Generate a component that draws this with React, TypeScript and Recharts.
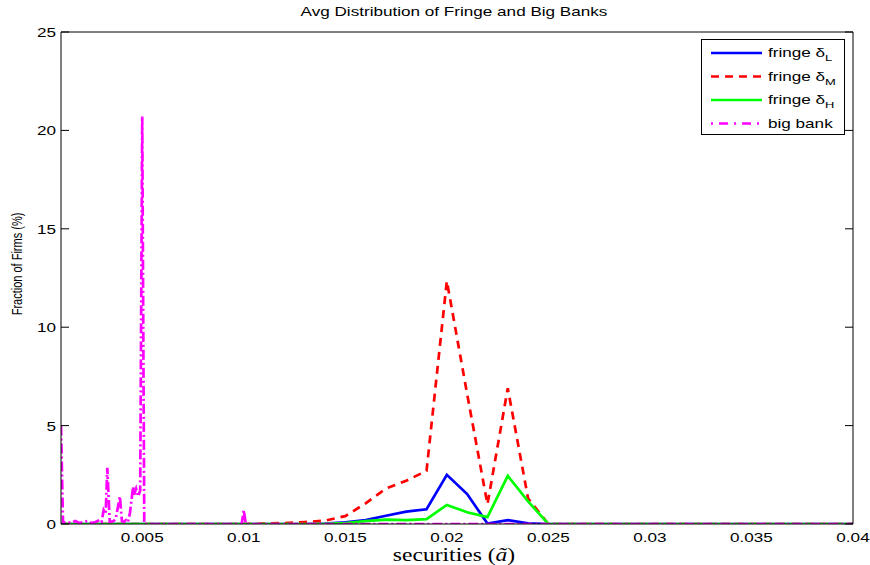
import React from 'react';
import { LineChart, Line, XAxis, YAxis } from 'recharts';

// fringe grid, one value per 0.001 of securities
const secX = [
  0.001, 0.002, 0.003, 0.004, 0.005, 0.006, 0.007, 0.008, 0.009, 0.01,
  0.011, 0.012, 0.013, 0.014, 0.015, 0.016, 0.017, 0.018, 0.019, 0.02,
  0.021, 0.022, 0.023, 0.024, 0.025, 0.026, 0.027, 0.028, 0.029, 0.03,
  0.031, 0.032, 0.033, 0.034, 0.035, 0.036, 0.037, 0.038, 0.039, 0.04,
];
const fringeL = [
  0, 0, 0, 0, 0, 0, 0, 0, 0, 0,
  0, 0, 0, 0.02, 0.08, 0.2, 0.42, 0.63, 0.75, 2.5,
  1.52, 0.02, 0.2, 0.03, 0, 0, 0, 0, 0, 0,
  0, 0, 0, 0, 0, 0, 0, 0, 0, 0,
];
const fringeM = [
  0, 0, 0, 0, 0, 0, 0, 0, 0, 0,
  0.02, 0.05, 0.1, 0.17, 0.4, 1.05, 1.8, 2.2, 2.7, 12.35,
  6.6, 1.0, 6.9, 1.3, 0, 0, 0, 0, 0, 0,
  0, 0, 0, 0, 0, 0, 0, 0, 0, 0,
];
const fringeH = [
  0, 0, 0, 0, 0, 0, 0, 0, 0, 0,
  0, 0, 0, 0.01, 0.05, 0.15, 0.22, 0.2, 0.25, 0.97,
  0.6, 0.35, 2.45, 1.15, 0, 0, 0, 0, 0, 0,
  0, 0, 0, 0, 0, 0, 0, 0, 0, 0,
];

// big bank is on a finer grid
const bigBankX = [
  0.001, 0.0011, 0.0013, 0.0015, 0.0017, 0.0019, 0.0021, 0.0023, 0.0025, 0.0027,
  0.0029, 0.003, 0.0031, 0.0032, 0.00328, 0.0034, 0.0036, 0.0037, 0.0039, 0.004,
  0.0041, 0.0042, 0.0043, 0.0044, 0.00455, 0.0046, 0.0047, 0.0048, 0.0049, 0.005,
  0.0051, 0.0099, 0.01, 0.0101, 0.04,
];
const bigBankY = [
  5.0, 0.05, 0.1, 0.05, 0.15, 0.05, 0.1, 0.15, 0.05, 0.1,
  0.2, 0.1, 0.7, 0.5, 2.85, 0.1, 0.15, 0.3, 1.4, 0.15,
  0.1, 0.2, 0.1, 0.6, 1.9, 1.5, 1.8, 1.4, 1.7, 20.7,
  0, 0, 0.7, 0, 0,
];

const xTicks = [0.005, 0.01, 0.015, 0.02, 0.025, 0.03, 0.035, 0.04];
const yTicks = [0, 5, 10, 15, 20, 25];

const legendItems = [
  { name: 'fringe δ', sub: 'L', color: '#0000ff', dash: undefined },
  { name: 'fringe δ', sub: 'M', color: '#ff0000', dash: '8 6' },
  { name: 'fringe δ', sub: 'H', color: '#00ff00', dash: undefined },
  { name: 'big bank', sub: '', color: '#ff00ff', dash: '2 6 9 6' },
];

const toPoints = (xs: number[], ys: number[]) => xs.map((x, i) => ({ x, y: ys[i] }));

const SANS = '"Liberation Sans", Arial, sans-serif';
const SX = 1.36; // the figure text is stretched horizontally
const X_DOMAIN: [number, number] = [0.001, 0.04];
const Y_DOMAIN: [number, number] = [0, 25];

function XTick({ x, y, payload }: any) {
  return (
    <text
      transform={`translate(${x},${y + 11}) scale(${SX},1)`}
      textAnchor="middle"
      fontSize={12.6}
      fontFamily={SANS}
      fill="#000"
    >
      {payload.value}
    </text>
  );
}

function YTick({ x, y, payload }: any) {
  return (
    <text
      transform={`translate(${x},${y + 5}) scale(${SX},1)`}
      textAnchor="end"
      fontSize={12.6}
      fontFamily={SANS}
      fill="#000"
    >
      {payload.value}
    </text>
  );
}

// tick marks only, no label
function NoLabel() {
  return <g />;
}

const tickMarks = { stroke: '#000', strokeWidth: 1 };

export default function App() {
  const lines = [
    { key: 'L', data: toPoints(secX, fringeL), color: '#0000ff', dash: undefined },
    { key: 'M', data: toPoints(secX, fringeM), color: '#ff0000', dash: '8 6' },
    { key: 'H', data: toPoints(secX, fringeH), color: '#00ff00', dash: undefined },
    { key: 'B', data: toPoints(bigBankX, bigBankY), color: '#ff00ff', dash: '10 3 2 3' },
  ];

  return (
    <div style={{ position: 'absolute', left: 0, top: 0, width: 870, height: 565, background: '#fff' }}>
      <LineChart width={870} height={565} margin={{ top: 32, right: 17, bottom: 11, left: 21 }}>
        {/* labelled axes */}
        <XAxis
          dataKey="x"
          type="number"
          domain={X_DOMAIN}
          ticks={xTicks}
          allowDataOverflow
          height={30}
          tickLine={false}
          tickSize={0}
          tickMargin={7}
          tick={<XTick />}
          stroke="#000"
        />
        <YAxis
          type="number"
          domain={Y_DOMAIN}
          ticks={yTicks}
          allowDataOverflow
          width={40}
          tickLine={false}
          tickSize={0}
          tickMargin={5}
          tick={<YTick />}
          stroke="#000"
        />
        {/* inward ticks and box on all four sides */}
        <XAxis xAxisId="bm" type="number" domain={X_DOMAIN} ticks={xTicks} allowDataOverflow mirror tickSize={8} tickLine={tickMarks} tick={<NoLabel />} axisLine={false} />
        <XAxis xAxisId="top" orientation="top" type="number" domain={X_DOMAIN} ticks={xTicks} allowDataOverflow mirror tickSize={8} tickLine={tickMarks} tick={<NoLabel />} stroke="#000" />
        <YAxis yAxisId="lm" type="number" domain={Y_DOMAIN} ticks={yTicks} allowDataOverflow mirror tickSize={8} tickLine={tickMarks} tick={<NoLabel />} axisLine={false} />
        <YAxis yAxisId="right" orientation="right" type="number" domain={Y_DOMAIN} ticks={yTicks} allowDataOverflow mirror tickSize={8} tickLine={tickMarks} tick={<NoLabel />} stroke="#000" />
        {lines.map((l) => (
          <Line
            key={l.key}
            data={l.data}
            dataKey="y"
            type="linear"
            stroke={l.color}
            strokeWidth={2.7}
            strokeDasharray={l.dash}
            dot={false}
            activeDot={false}
            isAnimationActive={false}
          />
        ))}
      </LineChart>

      <svg width={870} height={565} style={{ position: 'absolute', left: 0, top: 0, pointerEvents: 'none' }}>
        <text
          transform={`translate(454,16) scale(${SX},1)`}
          textAnchor="middle"
          fontSize={12.6}
          fontFamily={SANS}
          fill="#000"
        >
          Avg Distribution of Fringe and Big Banks
        </text>
        <text
          transform="translate(22,264) rotate(-90) scale(1,1.36)"
          textAnchor="middle"
          fontSize={11}
          fontFamily={SANS}
          fill="#000"
        >
          Fraction of Firms (%)
        </text>
        <text
          transform="translate(454,561) scale(1.24,1)"
          textAnchor="middle"
          fontSize={19}
          fontFamily='"Liberation Serif", "Times New Roman", serif'
          fill="#000"
        >
          securities (<tspan fontStyle="italic">ã</tspan>)
        </text>

        <g transform="translate(701,39)">
          <rect x={0.5} y={0.5} width={143} height={95} fill="#fff" stroke="#000" strokeWidth={1} />
          {legendItems.map((it, i) => {
            const cy = 14 + i * 23.5;
            return (
              <g key={i}>
                <line x1={10} x2={61} y1={cy} y2={cy} stroke={it.color} strokeWidth={2.6} strokeDasharray={it.dash} />
                <text
                  transform={`translate(67,${cy + 4}) scale(${SX},1)`}
                  fontSize={12.6}
                  fontFamily={SANS}
                  fill="#000"
                >
                  {it.name}
                  {it.sub && (
                    <tspan dy={4} fontSize={9.5}>
                      {it.sub}
                    </tspan>
                  )}
                </text>
              </g>
            );
          })}
        </g>
      </svg>
    </div>
  );
}
